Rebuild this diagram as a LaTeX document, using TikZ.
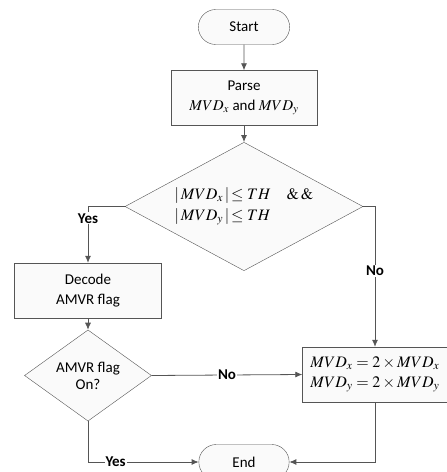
\documentclass[tikz,border=0pt]{standalone}
\usepackage{mathptmx}
\usepackage[no-math]{fontspec}
\setmainfont{Carlito}
\usetikzlibrary{shapes.geometric,shapes.misc,arrows.meta}

\definecolor{linegray}{RGB}{85,85,85}
\definecolor{boxfill}{RGB}{250,250,250}

\begin{document}
\begin{tikzpicture}[
    x=1pt, y=-1pt,
    font=\fontsize{15}{20}\selectfont,
    terminal/.style={rounded rectangle, draw=linegray, fill=boxfill,
      minimum width=98pt, minimum height=35pt},
    process/.style={rectangle, draw=linegray, fill=boxfill,
      minimum width=146pt, minimum height=55pt, align=center},
    decision/.style={diamond, draw=linegray, fill=boxfill, inner sep=0pt},
    flow/.style={draw=linegray, line width=0.8pt, -{Latex[length=7pt, width=6pt]}},
    answer/.style={fill=white, font=\fontsize{15}{16}\selectfont\bfseries, inner sep=1pt}
  ]
  \useasboundingbox (0, 0) rectangle (447, 472);

  % blocks
  \node [terminal] (start) at (244, 27) {Start};
  \node [process] (parse) at (244, 98) {Parse\\ $MVD_x$ and $MVD_y$};
  \node [decision, minimum width=238pt, minimum height=125pt, inner sep=-12pt, align=left,
    font=\fontsize{16}{21}\selectfont] (cond) at (244, 206.5)
    {$|\,MVD_x\,|\!\le TH$\quad $\&\,\&$\\ $|\,MVD_y\,|\!\le TH$};
  \node [process, minimum width=147pt] (decode) at (88, 290.5) {Decode\\ AMVR flag};
  \node [decision, minimum width=127pt, minimum height=69pt, align=center,
    font=\fontsize{15}{17}\selectfont] (amvr) at (88, 375.5) {AMVR flag\\ On?};
  \node [process, minimum width=145pt, align=left,
    font=\fontsize{16}{20}\selectfont] (scale) at (375, 374.5)
    {$MVD_x = 2\times MVD_x$\\ $MVD_y = 2\times MVD_y$};
  \node [terminal, minimum width=97pt] (end) at (244, 462) {End};

  % connectors
  \draw [flow] (start) -- (parse);
  \draw [flow] (parse) -- (cond);
  \draw [flow] (cond.west) -| node [answer, pos=0.605] {Yes} (decode.north);
  \draw [flow] (cond.east) -| node [answer, pos=0.73] {No} (scale.north);
  \draw [flow] (decode) -- (amvr);
  \draw [flow] (amvr.east) -- node [answer] {No} (scale.west);
  \draw [flow] (amvr.south) |- node [answer, pos=0.625] {Yes} (end.west);
  \draw [flow] (scale.south) |- (end.east);
\end{tikzpicture}
\end{document}
